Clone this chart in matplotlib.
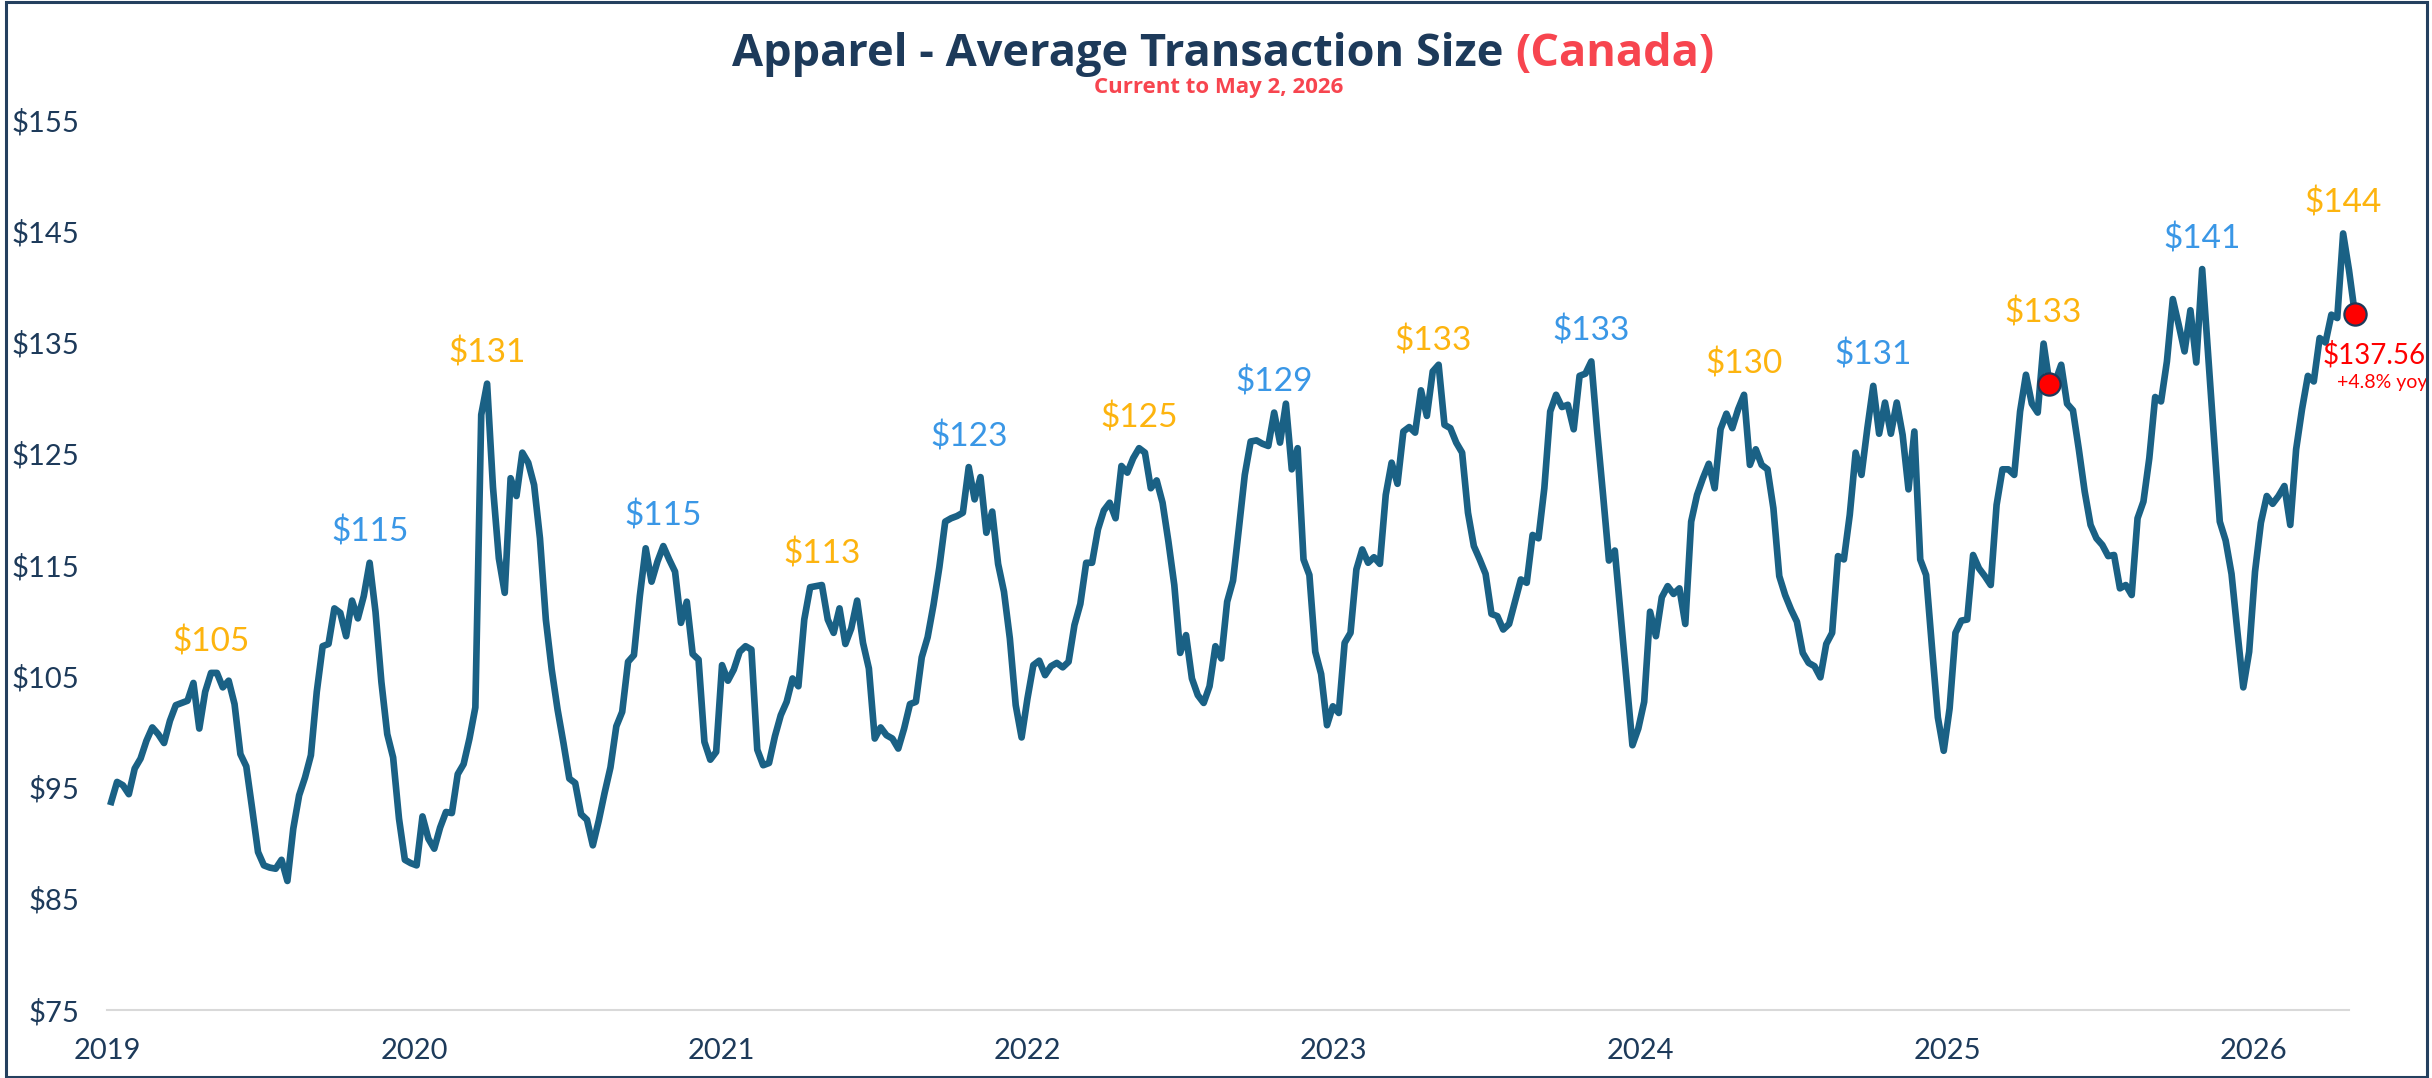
import matplotlib.pyplot as plt
import matplotlib.dates as mdates
import matplotlib.patches as patches
import pandas as pd

# weekly average transaction size, apparel Canada
values = [
    93.7, 95.5, 95.2, 94.4, 96.7, 97.6, 99.2, 100.4, 99.8, 99.0,
    101.0, 102.4, 102.6, 102.8, 104.4, 100.3, 103.6, 105.3, 105.3, 104.0,
    104.6, 102.5, 98.0, 96.9, 93.1, 89.2, 88.0, 87.8, 87.7, 88.5,
    86.6, 91.3, 94.3, 95.9, 97.9, 103.6, 107.7, 107.9, 111.1, 110.7,
    108.6, 111.8, 110.2, 112.2, 115.2, 110.8, 104.5, 99.8, 97.7, 92.2,
    88.5, 88.2, 88.0, 92.4, 90.4, 89.5, 91.4, 92.8, 92.7, 96.2,
    97.1, 99.4, 102.2, 128.5, 131.3, 122.0, 115.6, 112.5, 122.8, 121.2,
    125.1, 124.2, 122.2, 117.4, 110.1, 105.6, 102.0, 99.0, 95.8, 95.4,
    92.6, 92.1, 89.8, 92.0, 94.5, 96.8, 100.5, 101.8, 106.3, 106.9,
    112.2, 116.5, 113.5, 115.3, 116.7, 115.5, 114.4, 109.8, 111.7, 107.0,
    106.5, 99.1, 97.5, 98.2, 106.0, 104.6, 105.6, 107.2, 107.7, 107.4,
    98.4, 97.0, 97.2, 99.6, 101.5, 102.7, 104.8, 104.1, 110.1, 113.0,
    113.1, 113.2, 110.1, 108.9, 111.1, 107.9, 109.3, 111.8, 108.0, 105.7,
    99.4, 100.4, 99.7, 99.4, 98.5,
    100.3, 102.5, 102.7, 106.7, 108.5, 111.4, 114.8, 118.9, 119.2,
    119.4, 119.7, 123.8, 120.9, 122.9, 117.9, 119.8, 115.1, 112.6, 108.4,
    102.4, 99.5, 103.0, 106.0, 106.4, 105.1, 105.9, 106.2, 105.8, 106.3,
    109.6, 111.5, 115.2, 115.2, 118.2, 119.9, 120.6, 119.2, 123.9, 123.3,
    124.6, 125.5, 125.1, 121.9, 122.6, 120.6, 117.1, 113.2, 107.1, 108.7,
    104.8, 103.3, 102.6, 104.1, 107.7, 106.6, 111.7, 113.6, 118.3, 123.1,
    126.1, 126.2, 125.9, 125.7, 128.7, 126.0, 129.5,
    123.6, 125.5, 115.5, 114.1, 107.2, 105.2, 100.6, 102.3, 101.7, 108.0,
    108.9, 114.6, 116.4, 115.2, 115.7, 115.1, 121.3, 124.2, 122.3, 127.0,
    127.4, 126.9, 130.7, 128.4, 132.4, 133.0, 127.6, 127.3, 126.0, 125.1,
    119.7, 116.7, 115.5, 114.2, 110.6, 110.4, 109.2, 109.7, 111.7, 113.7,
    113.4, 117.7, 117.4, 121.9, 128.8, 130.3, 129.2, 129.4, 127.2, 132.0,
    132.2, 133.3, 127.0, 121.3, 115.4, 116.3, 110.5, 104.6, 98.8, 100.3,
    102.7, 110.8, 108.6, 112.1, 113.1, 112.4, 112.9, 109.7, 118.9, 121.3,
    122.8, 124.1, 121.9, 127.2, 128.6, 127.3, 129.0, 130.3, 124.0, 125.4,
    124.0, 123.6, 120.1, 114.0, 112.3, 111.0, 109.9, 107.1, 106.2, 105.9,
    104.9, 107.9, 108.9, 115.8, 115.5, 119.5, 125.1, 123.1, 127.3, 131.1,
    126.8, 129.6, 126.8, 129.6, 126.7, 121.8, 127.0, 115.5, 114.1, 107.6,
    101.3, 98.3, 102.1, 108.9, 110.0, 110.1, 115.9, 114.7, 114.0, 113.2,
    120.4, 123.6, 123.6, 123.1, 128.8, 132.1, 129.5, 128.7, 134.9, 131.3,
    131.5, 133.0, 129.5, 128.9, 125.4, 121.6, 118.6, 117.4, 116.8, 115.8,
    115.9, 112.9, 113.2, 112.3, 119.2, 120.7, 124.6, 130.1, 129.7, 133.3,
    138.9, 136.6, 134.2, 137.9, 133.2, 141.6,
    134.0, 126.5, 118.9, 117.2, 114.2, 109.0, 104.0, 107.2, 114.4, 118.8,
    121.2, 120.5, 121.2, 122.1, 118.6, 125.4, 129.0, 132.0, 131.5, 135.4,
    135.0, 137.5, 137.2, 144.8, 141.5, 137.56,
]
dates = pd.date_range('2019-01-05', periods=len(values), freq='7D')

# labelled seasonal peaks (spring / holiday alternate)
peak_idx = [17, 44, 64, 94, 121, 146, 175, 198, 225, 252, 278, 300, 329, 356, 380]
peak_text = ['$105', '$115', '$131', '$115', '$113', '$123', '$125', '$129',
             '$133', '$133', '$130', '$131', '$133', '$141', '$144']

yticks = [75, 85, 95, 105, 115, 125, 135, 145, 155]

navy = '#1d3a5a'
line_col = '#1a6185'
red = '#ff0000'
coral = '#f7454f'
orange = '#fdb40f'
blue = '#3a97e6'

W, H = 2432, 1078
fig = plt.figure(figsize=(W / 100, H / 100), dpi=100)
ax = fig.add_axes([107 / W, 68 / H, (2349 - 107) / W, (1010 - 120) / H])

ax.plot(dates, values, color=line_col, lw=4.8, solid_joinstyle='round', clip_on=False, zorder=3)

# dots: current week and same week last year
yoy = values[-1] / values[-53] - 1
ax.plot([dates[-53], dates[-1]], [values[-53], values[-1]], 'o', ms=16, mfc=red,
        mec=navy, mew=1.6, clip_on=False, zorder=5)
ax.annotate(f'${values[-1]:.2f}', xy=(dates[-1], values[-1]), xytext=(51, -29),
            textcoords='offset points', ha='right', va='center', color=red,
            fontsize=20, fontfamily='Lato', annotation_clip=False)
ax.annotate(f'+{yoy * 100:.1f}% yoy', xy=(dates[-1], values[-1]), xytext=(52.5, -49),
            textcoords='offset points', ha='right', va='center', color=red,
            fontsize=14, fontfamily='Lato', annotation_clip=False)

for k, (i, txt) in enumerate(zip(peak_idx, peak_text)):
    ax.annotate(txt, xy=(dates[i], values[i]), xytext=(0, 22), textcoords='offset points',
                ha='center', va='center', fontsize=24, fontfamily='Lato',
                color=orange if k % 2 == 0 else blue, annotation_clip=False)

ax.set_ylim(75, 155)
ax.set_xlim(pd.Timestamp('2018-12-31'), pd.Timestamp('2026-04-25'))
ax.set_yticks(yticks)
ax.set_yticklabels([f'${v}' for v in yticks])
ax.xaxis.set_major_locator(mdates.YearLocator())
ax.xaxis.set_major_formatter(mdates.DateFormatter('%Y'))
ax.tick_params(length=0, labelsize=21, labelcolor=navy)
ax.tick_params(axis='y', pad=20)
ax.tick_params(axis='x', pad=20)
for lab in ax.get_xticklabels() + ax.get_yticklabels():
    lab.set_fontfamily('Lato')

for s in ['left', 'top', 'right']:
    ax.spines[s].set_visible(False)
ax.spines['bottom'].set_color('#d9d9d9')
ax.spines['bottom'].set_linewidth(1.5)

# title in two colours
fig.text(1503 / W, 1 - 66 / H, 'Apparel - Average Transaction Size', ha='right', va='baseline',
         fontsize=32.5, fontweight='bold', fontfamily='Open Sans', color=navy)
fig.text(1515 / W, 1 - 66 / H, '(Canada)', ha='left', va='baseline',
         fontsize=32.5, fontweight='bold', fontfamily='Open Sans', color=coral)
fig.text(1219 / W, 1 - 87 / H, 'Current to May 2, 2026', ha='center', va='center',
         fontsize=16, fontweight='bold', fontfamily='Open Sans', color=coral)

fig.patches.append(patches.Rectangle((6 / W, 1 / H), (2427 - 6) / W, (1076 - 1) / H,
                                     transform=fig.transFigure, fill=False,
                                     ec='#24405f', lw=2.2))

fig.savefig('out.png', dpi=100, facecolor='white')
